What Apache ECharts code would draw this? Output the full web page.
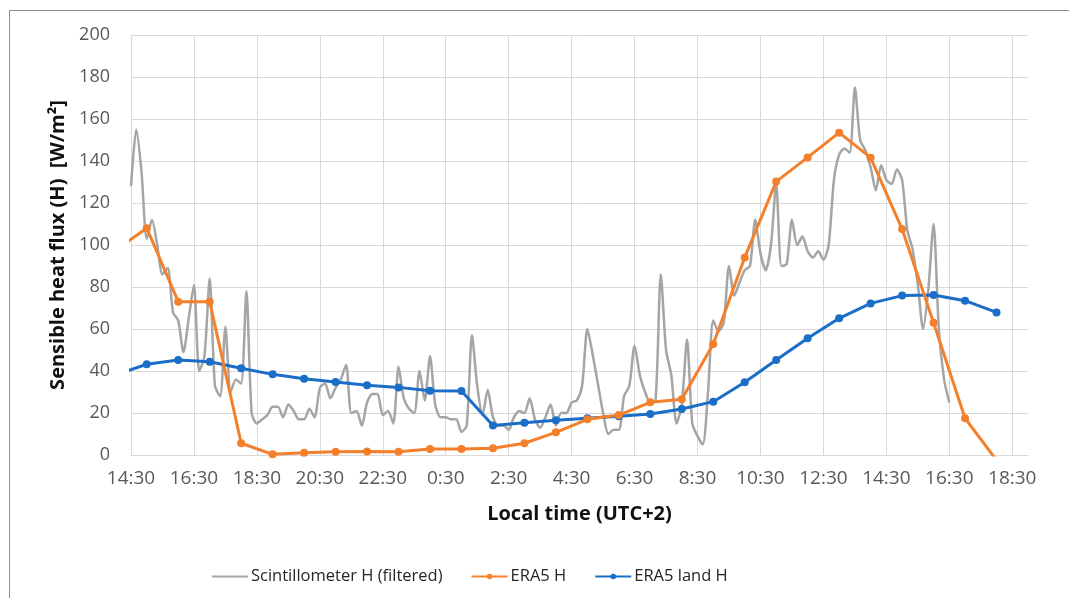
<!DOCTYPE html>
<html>
<head>
<meta charset="utf-8">
<script src="https://cdn.jsdelivr.net/npm/echarts@6/dist/echarts.min.js"></script>
<style>
html,body{margin:0;padding:0;background:#fff;}
#chart{width:1069px;height:598px;}
</style>
</head>
<body>
<div id="chart"></div>
<script>
// x tick labels (every 2 h, starting 14:30 on day 1)
const xTickLabels = ['14:30','16:30','18:30','20:30','22:30','0:30','2:30','4:30','6:30','8:30','10:30','12:30','14:30','16:30','18:30'];

// ERA5 hourly time stamps (hours after 0:00 of day 1)
const eraHours = [14,15,16,17,18,19,20,21,22,23,24,25,26,27,28,29,30,31,32,33,34,35,36,37,38,39,40,41,42];
const era5H = [97.5,108,73,73,5.6,0.3,1.1,1.6,1.7,1.6,2.9,2.9,3.2,5.6,10.8,17,19,25.1,26.6,52.9,94.1,130.2,141.7,153.5,141.6,107.6,63,17.5,-2.5];
const era5LandH = [38,43.2,45.2,44.4,41.3,38.4,36.3,34.8,33.2,32.2,30.6,30.5,14.0,15.4,16.5,17.5,18.4,19.5,21.9,25.4,34.6,45.2,55.6,65.1,72.2,75.9,76.2,73.5,67.9];

// Scintillometer (filtered), 10-minute samples starting 14:30 day 1
const scintStartHour = 14.5;
const scintStepMin = 10;
const scintH = [
128,155,135,103,112,100,86,89,68,64,
49,65,81,40,47,84,33,28,61,30,
36,34,78,20,15,17,19,23,23,18,
24,21,17,17,22,18,32,34,27,32,
36,43,20,21,14,25,29,29,19,21,
15,42,27,22,20,40,26,47,24,18,
18,17,17,11,14,57,33,19,31,18,
14,14,12,18,21,20,27,17,13,18,
24,14,20,20,25,26,33,60,48,34,
20,10,12,12,28,33,52,38,30,25,
26,86,50,38,15,24,55,15,9,5,
30,64,59,63,90,76,82,88,90,112,
96,88,100,129,90,91,112,100,104,97,
94,97,93,100,131,143,146,144,175,150,
145,137,126,138,131,129,136,131,107,98,
81,60,79,110,60,36,25
];

const axisStart = 14.5; // 14:30 day 1
const scintData = scintH.map((v, i) => [scintStartHour + i * scintStepMin / 60 - axisStart, v]);
const era5Data = era5H.map((v, i) => [eraHours[i] - axisStart, v]);
const era5LandData = era5LandH.map((v, i) => [eraHours[i] - axisStart, v]);

const FONT = '"Open Sans", "Noto Sans", sans-serif';
const chart = echarts.init(document.getElementById('chart'));
chart.setOption({
  backgroundColor: '#ffffff',
  animation: false,
  textStyle: { fontFamily: FONT },
  graphic: [{
    type: 'rect', silent: true, z: -10,
    shape: { x: 9.5, y: 10.5, width: 2000, height: 2000 },
    style: { fill: 'none', stroke: '#8c8c8c', lineWidth: 1 }
  }],
  grid: { left: 131, right: 41, top: 35, bottom: 143, containLabel: false },
  legend: {
    left: 206, top: 563,
    itemWidth: 36, itemHeight: 7, itemGap: 28,
    textStyle: { fontFamily: FONT, fontSize: 16.5, color: '#262626', padding: [0,0,0,-2] },
    data: [
      { name: 'Scintillometer H (filtered)', itemStyle: { opacity: 0 } },
      { name: 'ERA5 H' },
      { name: 'ERA5 land H' }
    ]
  },
  xAxis: {
    type: 'value', min: 0, max: 28.5, interval: 2,
    name: 'Local time (UTC+2)', nameLocation: 'middle', nameGap: 49,
    nameTextStyle: { fontFamily: FONT, fontSize: 20, fontWeight: 'bold', color: '#111' },
    axisLine: { show: true, lineStyle: { color: '#d9d9d9', width: 1 } },
    axisTick: { show: false },
    axisLabel: {
      margin: 14, fontSize: 19, color: '#595959', fontFamily: FONT,
      showMaxLabel: false,
      formatter: function (v) {
        const idx = Math.round(v / 2);
        if (Math.abs(v - idx * 2) > 1e-6) return '';
        return xTickLabels[idx] || '';
      }
    },
    splitLine: { show: true, showMaxLine: false, lineStyle: { color: '#d9d9d9', width: 1 } }
  },
  yAxis: {
    type: 'value', min: 0, max: 200, interval: 20,
    name: 'Sensible heat flux (H)  [W/m²]', nameLocation: 'middle', nameGap: 62,
    nameTextStyle: { fontFamily: FONT, fontSize: 20, fontWeight: 'bold', color: '#111' },
    axisLine: { show: false },
    axisTick: { show: false },
    axisLabel: { margin: 21, fontSize: 18, color: '#595959', fontFamily: FONT },
    splitLine: { show: true, lineStyle: { color: '#d9d9d9', width: 1 } }
  },
  series: [
    {
      name: 'Scintillometer H (filtered)', type: 'line', data: scintData,
      showSymbol: false, symbol: 'none', clip: true, smooth: 0.25,
      lineStyle: { color: '#a5a5a5', width: 2.5 }, itemStyle: { color: '#a5a5a5' }, z: 1
    },
    {
      name: 'ERA5 H', type: 'line', data: era5Data, clip: true,
      symbol: 'circle', symbolSize: 8,
      lineStyle: { color: '#f4802c', width: 3 }, itemStyle: { color: '#f4802c' }, z: 3
    },
    {
      name: 'ERA5 land H', type: 'line', data: era5LandData, clip: true,
      symbol: 'circle', symbolSize: 8,
      lineStyle: { color: '#1b6ec8', width: 3 }, itemStyle: { color: '#1b6ec8' }, z: 2
    }
  ]
});
</script>
</body>
</html>
